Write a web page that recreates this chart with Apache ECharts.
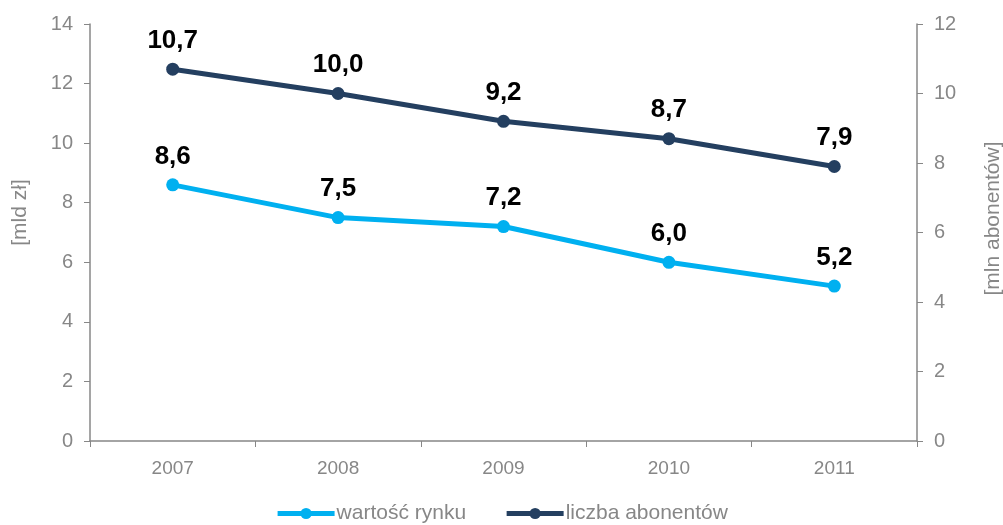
<!DOCTYPE html>
<html>
<head>
<meta charset="utf-8">
<script src="https://cdn.jsdelivr.net/npm/echarts@6/dist/echarts.min.js"></script>
<style>html,body{margin:0;padding:0;background:#fff}#c{width:1003px;height:525px}</style>
</head>
<body>
<div id="c"></div>
<script>
const categories = ['2007', '2008', '2009', '2010', '2011'];
const marketValue = [8.6, 7.5, 7.2, 6.0, 5.2];
const subscribers = [10.7, 10.0, 9.2, 8.7, 7.9];
const seriesNames = ['wartość rynku', 'liczba abonentów'];
const leftAxisName = '[mld zł]';
const rightAxisName = '[mln abonentów]';

const gray = '#878787';
const font = 'Arial, "Liberation Sans", sans-serif';
const fmt = p => p.value.toFixed(1).replace('.', ',');

const chart = echarts.init(document.getElementById('c'), null, {renderer: 'canvas'});
chart.setOption({
  animation: false,
  textStyle: {fontFamily: font},
  grid: {left: 90, right: 86, top: 24, bottom: 84, containLabel: false, outerBoundsMode: 'none'},
  legend: {
    top: 498, left: 'center', itemGap: 38, itemWidth: 57, itemHeight: 14,
    textStyle: {color: gray, fontSize: 21, fontFamily: font, padding: [0, 0, 0, -3]},
    lineStyle: {width: 5},
    data: seriesNames
  },
  xAxis: {
    type: 'category', data: categories, boundaryGap: true,
    axisLine: {lineStyle: {color: gray, width: 1.5}},
    axisTick: {show: true, length: 6, lineStyle: {color: gray}},
    axisLabel: {color: gray, fontSize: 19, margin: 18}
  },
  yAxis: [
    {
      type: 'value', min: 0, max: 14, interval: 2,
      name: leftAxisName, nameLocation: 'middle', nameGap: 59,
      nameTextStyle: {color: gray, fontSize: 21, padding: [0, 0, 0, 40]},
      axisLine: {show: true, lineStyle: {color: gray, width: 1.5}},
      axisTick: {show: true, length: 6, lineStyle: {color: gray}},
      axisLabel: {color: gray, fontSize: 20, margin: 17},
      splitLine: {show: false}
    },
    {
      type: 'value', min: 0, max: 12, interval: 2, position: 'right',
      name: rightAxisName, nameLocation: 'middle', nameGap: 66,
      nameTextStyle: {color: gray, fontSize: 21, padding: [0, 0, 0, 28]},
      axisLine: {show: true, lineStyle: {color: gray, width: 1.5}},
      axisTick: {show: true, length: 6, lineStyle: {color: gray}},
      axisLabel: {color: gray, fontSize: 20, margin: 17},
      splitLine: {show: false}
    }
  ],
  series: [
    {
      name: seriesNames[0], type: 'line', yAxisIndex: 0, data: marketValue,
      symbol: 'circle', symbolSize: 13,
      lineStyle: {color: '#00B0F0', width: 5},
      itemStyle: {color: '#00B0F0'},
      label: {show: true, position: 'top', distance: 9, formatter: fmt,
        color: '#000', fontSize: 26, fontWeight: 'bold'}
    },
    {
      name: seriesNames[1], type: 'line', yAxisIndex: 1, data: subscribers,
      symbol: 'circle', symbolSize: 13,
      lineStyle: {color: '#243F60', width: 5},
      itemStyle: {color: '#243F60'},
      label: {show: true, position: 'top', distance: 9, formatter: fmt,
        color: '#000', fontSize: 26, fontWeight: 'bold'}
    }
  ]
});
</script>
</body>
</html>
